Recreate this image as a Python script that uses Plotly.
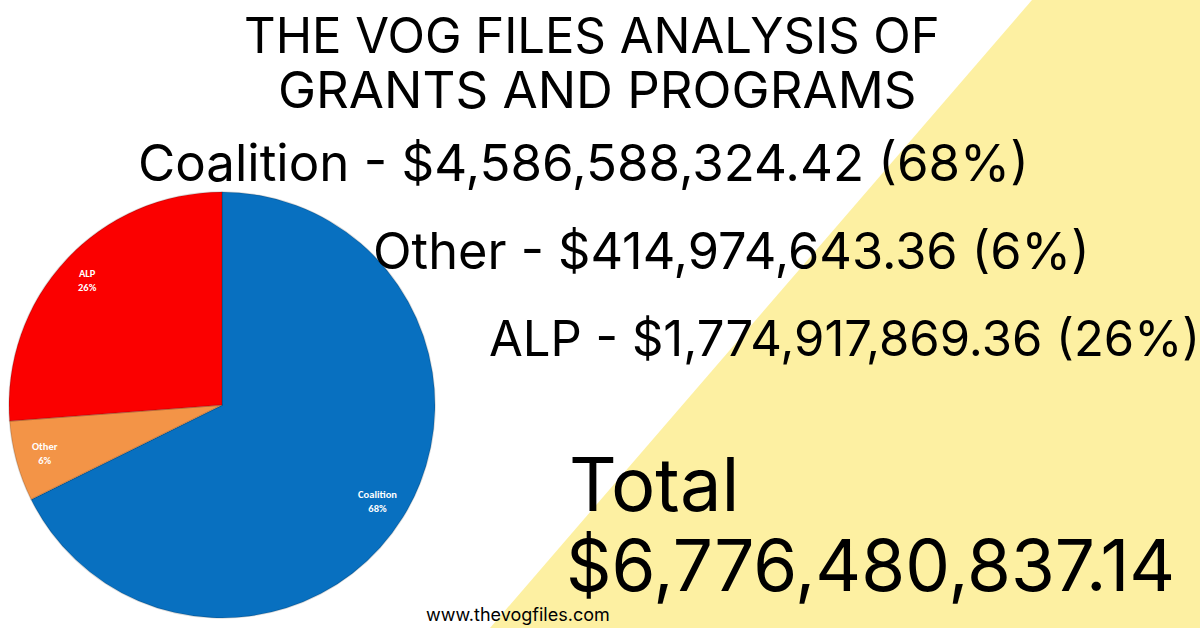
import math
import plotly.graph_objects as go

W, H = 1200, 628

parties = ["Coalition", "Other", "ALP"]
amounts = [4586588324.42, 414974643.36, 1774917869.36]
percent_labels = ["68%", "6%", "26%"]
colors = ["#0870C0", "#F39447", "#FB0000"]
title_lines = ["THE VOG FILES ANALYSIS OF", "GRANTS AND PROGRAMS"]
total_label = "Total"
total_value = "$6,776,480,837.14"
website = "www.thevogfiles.com"

FONT = "Inter, Open Sans, sans-serif"

# pie placement (pixels)
PX0, PX1, PY0, PY1 = 8, 436, 192, 618

fig = go.Figure()
fig.add_trace(go.Pie(
    labels=parties,
    values=amounts,
    sort=False,
    direction="clockwise",
    rotation=0,
    marker=dict(colors=colors, line=dict(color="rgba(0,0,0,0.15)", width=1.5)),
    textinfo="none",
    domain=dict(x=[PX0 / W, PX1 / W], y=[1 - PY1 / H, 1 - PY0 / H]),
    showlegend=False,
    hoverinfo="label+percent+value",
))


def px(x):
    return x / W


def py(y):
    return 1 - y / H


ann = []


def text(s, x, y, size, xanchor="center", color="black", family=FONT):
    ann.append(dict(text=s, x=px(x), y=py(y), xref="paper", yref="paper",
                    xanchor=xanchor, yanchor="middle", showarrow=False,
                    font=dict(family=family, size=size, color=color)))


# slice labels placed near the rim at each slice's mid-angle (from the data)
cx, cy = (PX0 + PX1) / 2, (PY0 + PY1) / 2
r = min(PX1 - PX0, PY1 - PY0) / 2
total = sum(amounts)
cum = 0.0
for name, v, pl in zip(parties, amounts, percent_labels):
    mid = (cum + v / 2) / total * 2 * math.pi  # clockwise from 12 o'clock
    cum += v
    rr = 0.86 * r
    lx = cx + rr * math.sin(mid)
    ly = cy - rr * math.cos(mid)
    text(f"<b>{name}</b><br><b>{pl}</b>", lx, ly, 10.5, color="white",
         family="Carlito, Liberation Sans, sans-serif")

text(title_lines[0], 592, 35, 49)
text(title_lines[1], 597, 89, 51)

fmt = lambda v: "${:,.2f}".format(v)
text(f"{parties[0]} - {fmt(amounts[0])} ({percent_labels[0]})", 583, 162, 51)
text(f"{parties[1]} - {fmt(amounts[1])} ({percent_labels[1]})", 731, 250, 50.5)
text(f"{parties[2]} - {fmt(amounts[2])} ({percent_labels[2]})", 844, 338, 49)
text(total_label, 567, 484, 74, xanchor="left")
text(total_value, 564, 565, 71, xanchor="left")
text(website, 518, 614, 18)

fig.update_layout(
    width=W, height=H,
    margin=dict(l=0, r=0, t=0, b=0),
    paper_bgcolor="white",
    plot_bgcolor="white",
    annotations=ann,
    shapes=[dict(type="path", xref="paper", yref="paper",
                 path=f"M {px(1032)} 1 L 1 1 L 1 0 L {px(490)} 0 Z",
                 fillcolor="#FDF0A2", line=dict(width=0), layer="below")],
)

fig.write_html("out.html",
               config={"displayModeBar": False},
               post_script="document.body.style.margin='0';document.body.style.padding='0';document.body.style.overflow='hidden';")
